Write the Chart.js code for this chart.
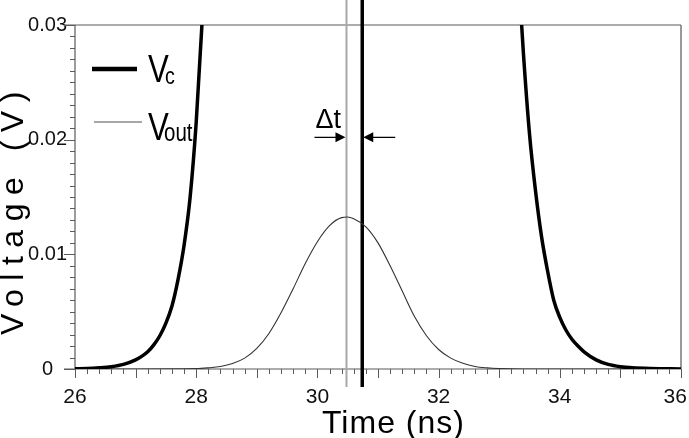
<!DOCTYPE html>
<html>
<head>
<meta charset="utf-8">
<style>
  html, body { margin: 0; padding: 0; background: #fff; }
  #voltage-chart { display: block; }
</style>
<script src="https://cdn.jsdelivr.net/npm/chart.js@4/dist/chart.umd.min.js"></script>
</head>
<body>
<canvas id="voltage-chart" width="689" height="438"></canvas>
<script>
// Vc, rising edge (ns, V)
const vcRiseTimes = [26.0, 26.2, 26.4, 26.6, 26.8, 27.0, 27.1, 27.2, 27.3, 27.4, 27.5, 27.6, 27.7, 27.8, 27.9, 28.0, 28.1, 28.15]
const vcRiseValues = [0.00002, 0.00004, 0.0001, 0.0002, 0.0004, 0.0008, 0.0011, 0.0015, 0.0021, 0.0029, 0.0040, 0.0055, 0.0078, 0.0108, 0.0150, 0.0215, 0.0305, 0.036]

// Vc, falling edge
const vcFallTimes = [33.3, 33.4, 33.5, 33.6, 33.7, 33.8, 33.9, 34.0, 34.1, 34.2, 34.3, 34.4, 34.6, 34.8, 35.0, 35.2, 35.5, 36.0]
const vcFallValues = [0.036, 0.0275, 0.0205, 0.0155, 0.0115, 0.0085, 0.0060, 0.0045, 0.0034, 0.0026, 0.0020, 0.0015, 0.0008, 0.0004, 0.0002, 0.0001, 0.00004, 0.00001]

// Vout pulse
const voutTimes = [26.0, 27.0, 28.0, 28.2, 28.4, 28.6, 28.8, 29.0, 29.2, 29.4, 29.6, 29.8, 30.0, 30.2, 30.4, 30.5, 30.6, 30.8, 31.0, 31.2, 31.4, 31.6, 31.8, 32.0, 32.2, 32.4, 32.6, 32.8, 33.0, 33.4, 36.0]
const voutValues = [0, 0, 0.00003, 0.0001, 0.00022, 0.00048, 0.00095, 0.0018, 0.0031, 0.0049, 0.0070, 0.0092, 0.0111, 0.0125, 0.0132, 0.01325, 0.0131, 0.0124, 0.0110, 0.0090, 0.0068, 0.0046, 0.0029, 0.0017, 0.00095, 0.0005, 0.00022, 0.0001, 0.00004, 0, 0]

// marker lines: peak of Vout (thin) and centre of Vc (thick)
const markerTimes = [30.48, 30.74]
const markerSpan = [-0.00157, 0.0322]
const arrowLevel = 0.0202

// the last label sits against the page edge, as in the original
const xTickLabels = ["26", "28", "30", "32", "34", "36  "]
const yTickLabels = ["0", "0.01", "0.02", "0.03"]

const FONT = "'Liberation Sans', Arial, sans-serif"

function toPoints(times, values) {
    return times.map((t, i) => ({ x: t, y: values[i] }))
}

function markerLine(t) {
    return markerSpan.map((v) => ({ x: t, y: v }))
}

const frameAndTicks = {
    id: "frameAndTicks",
    beforeDatasetsDraw(chart) {
        const { ctx, chartArea: a, scales } = chart
        ctx.save()
        ctx.strokeStyle = "#5a5a5a"
        ctx.lineWidth = 1.2

        ctx.beginPath()
        ctx.moveTo(a.left - 11, a.top)
        ctx.lineTo(a.right, a.top)
        ctx.stroke()
        ctx.strokeStyle = "#777"
        ctx.lineWidth = 1.5
        ctx.beginPath()
        ctx.moveTo(a.right, a.top)
        ctx.lineTo(a.right, a.bottom)
        ctx.stroke()

        ctx.strokeStyle = "#5a5a5a"
        ctx.lineWidth = 1.2
        ctx.beginPath()
        ctx.moveTo(a.left, a.top)
        ctx.lineTo(a.left, a.bottom)
        ctx.moveTo(a.left - 11, a.bottom)
        ctx.lineTo(a.right, a.bottom)
        ctx.stroke()

        ctx.lineWidth = 1
        ctx.beginPath()
        scales.x.ticks.forEach((tick) => {
            const px = Math.round(scales.x.getPixelForValue(tick.value)) + 0.5
            const whole = Math.abs(tick.value - Math.round(tick.value)) < 1e-6
            ctx.moveTo(px, a.bottom)
            ctx.lineTo(px, a.bottom + (whole ? 9 : 5))
        })
        scales.y.ticks.forEach((tick) => {
            const py = Math.round(scales.y.getPixelForValue(tick.value)) + 0.5
            const major = Math.round(tick.value * 1000) % 10 === 0
            ctx.moveTo(a.left, py)
            ctx.lineTo(a.left - (major ? 11 : 5), py)
        })
        ctx.stroke()
        ctx.restore()
    },
    afterDatasetsDraw(chart) {
        const { ctx, chartArea: a, scales } = chart
        ctx.save()

        // legend
        ctx.strokeStyle = "#000"
        ctx.lineWidth = 4.5
        ctx.beginPath()
        ctx.moveTo(a.left + 17, 69)
        ctx.lineTo(a.left + 62, 69)
        ctx.stroke()
        ctx.strokeStyle = "#8a8a8a"
        ctx.lineWidth = 1.5
        ctx.beginPath()
        ctx.moveTo(a.left + 19, 122)
        ctx.lineTo(a.left + 67, 122)
        ctx.stroke()

        ctx.fillStyle = "#000"
        ctx.textBaseline = "alphabetic"
        ctx.textAlign = "left"
        const drawCondensed = (text, x, y, size) => {
            ctx.save()
            ctx.translate(x, y)
            ctx.scale(0.82, 1)
            ctx.font = `${size}px ${FONT}`
            ctx.fillText(text, 0, 0)
            ctx.restore()
        }
        drawCondensed("V", a.left + 73, 82, 38)
        drawCondensed("c", a.left + 90, 84, 24)
        drawCondensed("V", a.left + 73, 140, 38)
        drawCondensed("out", a.left + 89, 141, 25)

        // delta t with arrows
        const xThin = scales.x.getPixelForValue(markerTimes[0])
        const xThick = scales.x.getPixelForValue(markerTimes[1])
        const yArrow = scales.y.getPixelForValue(arrowLevel)
        ctx.font = `27px ${FONT}`
        ctx.fillText("\u0394t", xThin - 31, yArrow - 9)

        ctx.strokeStyle = "#000"
        ctx.lineWidth = 1.2
        ctx.beginPath()
        ctx.moveTo(xThin - 32, yArrow)
        ctx.lineTo(xThin - 8, yArrow)
        ctx.moveTo(xThick + 33, yArrow)
        ctx.lineTo(xThick + 8, yArrow)
        ctx.stroke()
        ctx.beginPath()
        ctx.moveTo(xThin - 1, yArrow)
        ctx.lineTo(xThin - 11, yArrow - 5)
        ctx.lineTo(xThin - 11, yArrow + 5)
        ctx.closePath()
        ctx.moveTo(xThick + 1, yArrow)
        ctx.lineTo(xThick + 11, yArrow - 5)
        ctx.lineTo(xThick + 11, yArrow + 5)
        ctx.closePath()
        ctx.fill()

        // axis titles
        ctx.font = `32px ${FONT}`
        ctx.letterSpacing = "1px"
        ctx.fillText("Time (ns)", 322, 433)

        ctx.translate(23, 335)
        ctx.rotate(-Math.PI / 2)
        ctx.letterSpacing = "8.5px"
        ctx.fillText("Voltage (V)", 0, 0)
        ctx.restore()
    },
}

const chartElement = document.getElementById("voltage-chart")

new Chart(chartElement, {
    type: "line",
    data: {
        datasets: [
            {
                label: "Vc",
                data: toPoints(vcRiseTimes, vcRiseValues),
                borderColor: "#000",
                borderWidth: 3.5,
                cubicInterpolationMode: "monotone",
                pointRadius: 0,
            },
            {
                label: "Vc",
                data: toPoints(vcFallTimes, vcFallValues),
                borderColor: "#000",
                borderWidth: 3.5,
                cubicInterpolationMode: "monotone",
                pointRadius: 0,
            },
            {
                label: "Vout",
                data: toPoints(voutTimes, voutValues),
                borderColor: "#333",
                borderWidth: 1.1,
                cubicInterpolationMode: "monotone",
                pointRadius: 0,
            },
            {
                label: "Vout peak",
                data: markerLine(markerTimes[0]),
                borderColor: "#a8a8a8",
                borderWidth: 2,
                pointRadius: 0,
                clip: false,
            },
            {
                label: "Vc centre",
                data: markerLine(markerTimes[1]),
                borderColor: "#000",
                borderWidth: 3.5,
                pointRadius: 0,
                clip: false,
            },
        ],
    },
    options: {
        responsive: false,
        animation: false,
        devicePixelRatio: 1,
        layout: {
            padding: { top: 25, right: 8, left: 0, bottom: 0 },
        },
        plugins: {
            legend: { display: false },
            tooltip: { enabled: false },
        },
        scales: {
            x: {
                type: "linear",
                min: 26,
                max: 36,
                afterFit(scale) {
                    scale.height = 69
                    scale.paddingLeft = 0
                    scale.paddingRight = 0
                },
                grid: { display: false, drawTicks: false },
                border: { display: false },
                ticks: {
                    stepSize: 0.2,
                    autoSkip: false,
                    maxRotation: 0,
                    padding: 16,
                    color: "#111",
                    font: { family: FONT, size: 21 },
                    callback(value) {
                        const r = Math.round(value * 10)
                        if (r % 20 !== 0) return ""
                        return xTickLabels[(r - 260) / 20]
                    },
                },
            },
            y: {
                type: "linear",
                min: 0,
                max: 0.03,
                afterFit(scale) {
                    scale.width = 75
                    scale.paddingTop = 0
                    scale.paddingBottom = 0
                },
                grid: { display: false, drawTicks: false },
                border: { display: false },
                ticks: {
                    stepSize: 0.001,
                    autoSkip: false,
                    padding: 8,
                    crossAlign: "center",
                    color: "#111",
                    font: { family: FONT, size: 20 },
                    callback(value) {
                        const r = Math.round(value * 1000)
                        if (r % 10 !== 0) return ""
                        return yTickLabels[r / 10]
                    },
                },
            },
        },
    },
    plugins: [frameAndTicks],
})
</script>
</body>
</html>
